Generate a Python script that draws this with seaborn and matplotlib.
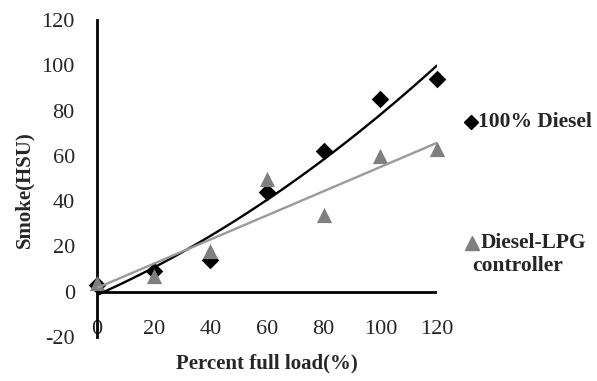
import numpy as np
import pandas as pd
import matplotlib
matplotlib.use("Agg")
import matplotlib.pyplot as plt
import seaborn as sns

load = [0, 20, 40, 60, 80, 100, 120]
diesel = [3, 9, 14, 44, 62, 85, 94]
lpg = [4, 7, 18, 50, 34, 60, 63]
x_ticks = [0, 20, 40, 60, 80, 100, 120]
y_ticks = [-20, 0, 20, 40, 60, 80, 100, 120]

sns.set_style("white")
plt.rcParams['font.family'] = ['Liberation Serif', 'DejaVu Serif']

fig = plt.figure(figsize=(5.97, 3.81), dpi=100)
ax = fig.add_axes([97/597, 44/381, 340/597, 317/381])

df = pd.DataFrame({"load": load, "diesel": diesel, "lpg": lpg})

# trend lines (fits of the data)
xs = np.linspace(0, 120, 100)
cd = np.polyfit(load, diesel, 2)
cl = np.polyfit(load, lpg, 1)
fit = pd.DataFrame({"x": xs, "d": np.polyval(cd, xs), "l": np.polyval(cl, xs)})

ax.axhline(0, color="black", lw=2.0, zorder=1)

sns.scatterplot(data=df, x="load", y="diesel", marker="D", color="black",
                s=80, edgecolor="black", linewidth=0, ax=ax, zorder=3, clip_on=False)
sns.scatterplot(data=df, x="load", y="lpg", marker="^", color="#7f7f7f",
                s=120, edgecolor="#7f7f7f", linewidth=0, ax=ax, zorder=4, clip_on=False)
sns.lineplot(data=fit, x="x", y="d", color="black", lw=1.7, ax=ax, zorder=5)
sns.lineplot(data=fit, x="x", y="l", color="#9a9a9a", lw=1.7, ax=ax, zorder=5)

ax.set_xlim(0, 120)
ax.set_ylim(-20, 120)
ax.set_xticks(x_ticks)
ax.set_yticks(y_ticks)
ax.set_xticklabels([str(v) for v in x_ticks], fontsize=16)
ax.set_yticklabels([str(v) for v in y_ticks], fontsize=16)
ax.tick_params(axis='x', length=0, pad=-12)
ax.tick_params(axis='y', length=0, pad=16)
for s in ["top", "right", "bottom"]:
    ax.spines[s].set_visible(False)
ax.spines["left"].set_color("black")
ax.spines["left"].set_linewidth(2.0)
ax.set_xlabel("")
ax.set_ylabel("")

fig.text(267/597, 1 - 363/381, "Percent full load(%)", ha="center", va="center",
         fontsize=15, fontweight="bold")
fig.text(24/597, 1 - 190/381, "Smoke(HSU)", ha="center", va="center",
         rotation=90, fontsize=15, fontweight="bold")

# legend
ax.plot([(471-97)/340], [(337-122)/317], marker="D", color="black", ms=7.5,
        transform=ax.transAxes, clip_on=False)
ax.plot([(472-97)/340], [(337-243)/317], marker="^", color="#7f7f7f", ms=10.5,
        transform=ax.transAxes, clip_on=False)
fig.text(478/597, 1 - 122/381, "100% Diesel", ha="left", va="center",
         fontsize=15.5, fontweight="bold")
fig.text(481/597, 1 - 243/381, "Diesel-LPG", ha="left", va="center",
         fontsize=15.5, fontweight="bold")
fig.text(472/597, 1 - 266/381, "controller", ha="left", va="center",
         fontsize=15.5, fontweight="bold")

fig.savefig("out.png", dpi=100)
